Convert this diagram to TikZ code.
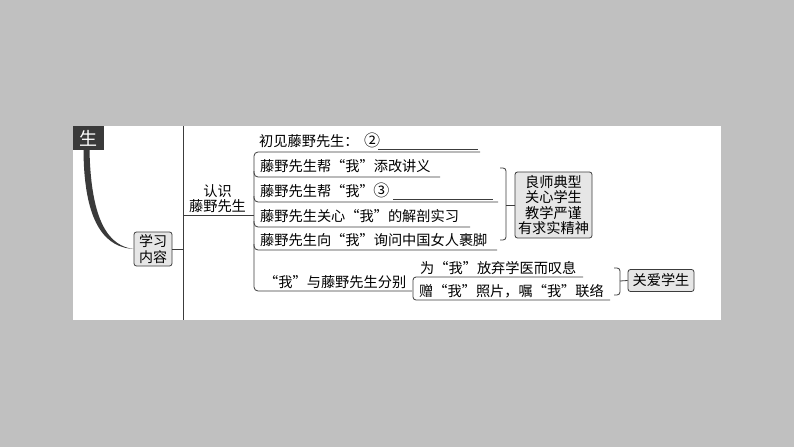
\documentclass[tikz,border=0pt]{standalone}
\usepackage{fontspec}
\setmainfont{Noto Sans CJK SC}
\definecolor{bgc}{RGB}{192,192,192}
\definecolor{lnc}{RGB}{60,60,60}
\definecolor{bxc}{RGB}{230,230,230}
\definecolor{dkc}{RGB}{58,58,58}
\newcommand{\circnum}[1]{\makebox[15pt][c]{\fontsize{16}{16}\selectfont #1}}
\begin{document}
\begin{tikzpicture}[x=1pt,y=-1pt,
  txt/.style={font=\fontsize{14.2}{16}\selectfont, inner sep=0pt, anchor=west, text height=12.5pt, text depth=1.7pt},
  gbox/.style={draw=lnc, fill=bxc, rounded corners=2.5pt, line width=0.8pt, inner sep=1.2pt, align=center, font=\fontsize{14.2}{15.5}\selectfont},
  lnk/.style={draw=lnc, line width=0.8pt},
  rnd/.style={lnk, rounded corners=4pt},
]
\useasboundingbox (0,0) rectangle (794,447);
\fill[bgc] (0,0) rectangle (794,447);
\fill[white] (73,126) rectangle (721,320);

% title box
\node[fill=dkc, minimum width=31pt, minimum height=24pt, inner sep=0pt, anchor=north west,
      text=white, font=\fontsize{18}{18}\selectfont] (sheng) at (73,126) {生};

% main vertical rule
\coordinate (vtop) at (183,126);
\coordinate (vbot) at (183,320);
\draw[lnk] (vtop) -- (vbot);

% learning content box
\node[gbox, minimum width=38pt, minimum height=34pt, font=\fontsize{14}{16}\selectfont] (xuexi) at (153,249) {学习\\内容};

% tapered curve from title to box
\fill[dkc] (83.5,150) .. controls (84,228) and (108,247.5) .. (xuexi.west)
   .. controls (110,246) and (91,224) .. (89.5,150) -- cycle;

\draw[lnk] (xuexi.east) -- (xuexi.east -| vtop);

% 认识藤野先生
\node[font=\fontsize{14.2}{15}\selectfont, align=center, inner sep=0pt] (renshi) at (217.5,199) {认识\\藤野先生};
\coordinate (rsL) at (183,215);
\coordinate (brk) at (254,215);
\draw[lnk] (rsL) -- (brk);

% items
\node[txt] (i1) at (259,141) {初见藤野先生：\hspace{6pt}\circnum{②}};
\node[txt] (i2) at (260,166) {藤野先生帮“我”添改讲义};
\node[txt] (i3) at (260,191) {藤野先生帮“我”\circnum{③}};
\node[txt] (i4) at (260,216) {藤野先生关心“我”的解剖实习};
\node[txt] (i5) at (260,240) {藤野先生向“我”询问中国女人裹脚};
\node[txt] (i6) at (264,282) {“我”与藤野先生分别};

% blanks
\draw[lnk] (378,149) -- (478,149);
\draw[lnk] (393,199) -- (493,199);

% bracket with underlines
\draw[rnd] (480,152) -- (254,152) -- (254,291) -- (412,291);
\draw[rnd] (254,171) -- (254,177) -- (440,177);
\draw[rnd] (254,196) -- (254,202) -- (498,202);
\draw[rnd] (254,221) -- (254,227) -- (470,227);
\draw[rnd] (254,244) -- (254,250) -- (497,250);

% right brace 1 and box
\node[gbox, minimum width=77pt, minimum height=66pt] (liangshi) at (553.5,205) {良师典型\\关心学生\\教学严谨\\有求实精神};
\draw[rnd, rounded corners=3pt] (500,168) -- (506,168) -- (506,240) -- (500,240);
\draw[lnk] (506,205) -- (liangshi.west);

% sub items
\node[txt] (s1) at (420,268) {为“我”放弃学医而叹息};
\node[txt] (s2) at (419,291) {赠“我”照片，嘱“我”联络};
\draw[rnd, rounded corners=3pt] (583,277) -- (413,277) -- (413,300) -- (610,300);

% right brace 2 and box
\node[gbox, minimum width=66pt, minimum height=22pt] (guanai) at (661,280.5) {关爱学生};
\draw[rnd, rounded corners=3pt] (614,268) -- (620,268) -- (620,295) -- (614,295);
\draw[lnk] (620,281) -- (guanai.west);
\end{tikzpicture}
\end{document}
